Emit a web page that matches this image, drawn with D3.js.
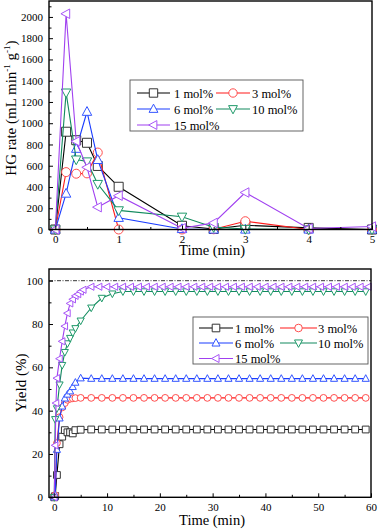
<!DOCTYPE html>
<html>
<head>
<meta charset="utf-8">
<script src="https://cdn.jsdelivr.net/npm/d3@7"></script>
<style>
body { margin: 0; background: #fff; }
svg { display: block; }
text { font-family: "Liberation Serif", "Times New Roman", serif; }
</style>
</head>
<body>
<script>
// ---- data: HG rate panel ----
const hgTime = [0, 0.17, 0.33, 0.5, 0.67, 1, 2, 2.5, 3, 4, 5];
const hg1 = [0, 920, 840, 816, 598, 402, 35, 5, 40, 15, 0];
const hg3 = [0, 540, 525, 528, 724, 0, 0, 2, 78, 0, 0];
const hg6 = [0, 338, 760, 1108, 655, 110, 5, 0, 0, 0, 0];
const hg10 = [0, 1288, 658, 640, 428, 180, 120, 22, 5, 0, 0];
const hg15 = [0, 2030, 830, 585, 210, 318, 12, 62, 348, 10, 28];

// ---- data: Yield panel ----
const yTimeA = [0, 0.17, 0.5, 1, 1.5, 2, 2.5, 3, 3.5, 4, 5,
  7, 9, 11, 13, 15, 17, 19, 21, 23, 25, 27, 29, 31, 33, 35, 37, 39,
  41, 43, 45, 47, 49, 51, 53, 55, 57, 59];
const yTimeB = [0, 0.17, 0.33, 0.5, 1, 1.5, 2, 2.5, 3, 3.5, 4, 4.5, 5, 5.5,
  7, 8.5, 10, 11.5, 13, 14.5, 16, 17.5, 19, 20.5, 22, 23.5, 25, 26.5, 28, 29.5,
  31, 32.5, 34, 35.5, 37, 38.5, 40, 41.5, 43, 44.5, 46, 47.5, 49, 50.5, 52, 53.5,
  55, 56.5, 58, 59.5];
const yield1 = [0, 0.6, 10.3, 24.5, 28, 31, 30, 30, 29.5, 31, 31.2,
  31.3, 31.3, 31.3, 31.3, 31.3, 31.3, 31.3, 31.3, 31.3, 31.3, 31.3, 31.3, 31.3, 31.3,
  31.3, 31.3, 31.3, 31.3, 31.3, 31.3, 31.3, 31.3, 31.3, 31.3, 31.3, 31.3, 31.3];
const yield3 = [0, 1, 25, 37, 41.5, 43.5, 45, 45.5, 45.7, 45.8, 45.9,
  45.9, 45.9, 45.9, 45.9, 45.9, 45.9, 45.9, 45.9, 45.9, 45.9, 45.9, 45.9, 45.9, 45.9,
  45.9, 45.9, 45.9, 45.9, 45.9, 45.9, 45.9, 45.9, 45.9, 45.9, 45.9, 45.9, 45.9];
const yield6 = [0, 1, 22, 36.5, 42, 45.7, 47.5, 49, 51, 53, 55,
  54.8, 54.8, 54.8, 54.8, 54.8, 54.8, 54.8, 54.8, 54.8, 54.8, 54.8, 54.8, 54.8, 54.8,
  54.8, 54.8, 54.8, 54.8, 54.8, 54.8, 54.8, 54.8, 54.8, 54.8, 54.8, 54.8, 54.8];
const yield10 = [0, 36, 41, 52, 61, 67, 71, 73.5, 76, 78, 81.5,
  87.5, 92, 94, 95, 95, 95, 95, 95, 95, 95, 95, 95, 95, 95,
  95, 95, 95, 95, 95, 95, 95, 95, 95, 95, 95, 95, 95];
const yield15 = [0, 24, 43.5, 55, 64, 72, 79, 85, 89.5, 91.4, 93, 93.8, 95, 95.8,
  97.2, 97.2, 97.2, 97.2, 97.2, 97.2, 97.2, 97.2, 97.2, 97.2, 97.2, 97.2, 97.2, 97.2,
  97.2, 97.2, 97.2, 97.2, 97.2, 97.2, 97.2, 97.2, 97.2, 97.2, 97.2, 97.2, 97.2, 97.2,
  97.2, 97.2, 97.2, 97.2, 97.2, 97.2, 97.2, 97.2];

const names = ["1 mol%", "3 mol%", "6 mol%", "10 mol%", "15 mol%"];
const colors = ["#000000", "#ff1a1a", "#1a3cff", "#128a5e", "#a040f0"];
const markerColors = ["#333333", "#ff4d4d", "#3355ff", "#1f9a6a", "#a855f7"];
const shapes = ["square", "circle", "up", "down", "left"];

const svg = d3.select("body").append("svg").attr("width", 378).attr("height", 529);

function markerPath(type, s) {
    switch (type) {
        case "square": return `M${-s},${-s}H${s}V${s}H${-s}Z`;
        case "circle": return `M${s},0A${s},${s} 0 1,1 ${-s},0A${s},${s} 0 1,1 ${s},0Z`;
        case "up": return `M0,${-s * 1.15}L${s * 1.05},${s * 0.8}L${-s * 1.05},${s * 0.8}Z`;
        case "down": return `M0,${s * 1.15}L${s * 1.05},${-s * 0.8}L${-s * 1.05},${-s * 0.8}Z`;
        case "left": return `M${-s * 1.15},0L${s * 0.8},${-s * 1.05}L${s * 0.8},${s * 1.05}Z`;
    }
}

function drawPanel(p) {
    const x = d3.scaleLinear().domain(p.xDomain).range([p.left, p.right]);
    const y = d3.scaleLinear().domain(p.yDomain).range([p.bottom, p.top]);
    const g = svg.append("g");

    if (p.refLine !== undefined) {
        g.append("line")
            .attr("x1", p.left).attr("x2", p.right)
            .attr("y1", y(p.refLine)).attr("y2", y(p.refLine))
            .attr("stroke", "#000").attr("stroke-width", 0.8)
            .attr("stroke-dasharray", "4,1.5,1,1.5");
    }

    // series
    p.series.forEach((s, i) => {
        const pts = s.t.map((t, k) => [x(t), y(s.v[k])]);
        g.append("path")
            .attr("d", d3.line()(pts))
            .attr("fill", "none")
            .attr("stroke", colors[i])
            .attr("stroke-width", 1.1);
        g.selectAll(null).data(pts).enter().append("path")
            .attr("transform", d => `translate(${d[0]},${d[1]})`)
            .attr("d", markerPath(shapes[i], p.mSize))
            .attr("fill", "#fff")
            .attr("stroke", markerColors[i])
            .attr("stroke-width", 1);
    });

    // axes (inward ticks)
    g.append("g").attr("transform", `translate(0,${p.bottom})`)
        .call(d3.axisBottom(x).tickValues(p.xMajor).tickSize(-4).tickPadding(6).tickFormat(d3.format("d")));
    g.append("g").attr("transform", `translate(0,${p.bottom})`)
        .call(d3.axisBottom(x).tickValues(p.xMinor).tickSize(-2.5).tickFormat(""));
    g.append("g").attr("transform", `translate(${p.left},0)`)
        .call(d3.axisLeft(y).tickValues(p.yMajor).tickSize(-4).tickPadding(6).tickFormat(d3.format("d")));
    g.append("g").attr("transform", `translate(${p.left},0)`)
        .call(d3.axisLeft(y).tickValues(p.yMinor).tickSize(-2.5).tickFormat(""));
    g.selectAll(".domain").remove();
    g.selectAll(".tick line").attr("stroke", "#000").attr("stroke-width", 1);
    g.selectAll(".tick text").attr("font-family", "Liberation Serif").attr("font-size", 11).attr("fill", "#000");

    g.append("rect")
        .attr("x", p.left).attr("y", p.top)
        .attr("width", p.right - p.left).attr("height", p.bottom - p.top)
        .attr("fill", "none").attr("stroke", "#000").attr("stroke-width", 1.4);

    // x title
    g.append("text").attr("x", 212).attr("y", p.xTitleY)
        .attr("text-anchor", "middle").attr("font-size", 14.5).text("Time (min)");

    // legend
    const L = p.legend;
    g.append("rect").attr("x", L.x0).attr("y", L.y0)
        .attr("width", L.x1 - L.x0).attr("height", L.y1 - L.y0)
        .attr("fill", "#fff").attr("stroke", "#555").attr("stroke-width", 0.9);
    names.forEach((n, i) => {
        const col = i % 2, row = Math.floor(i / 2);
        const c = L.cols[col];
        const yy = L.rows[row];
        g.append("line").attr("x1", c[0]).attr("x2", c[1]).attr("y1", yy).attr("y2", yy)
            .attr("stroke", colors[i]).attr("stroke-width", 1.1);
        g.append("path").attr("transform", `translate(${(c[0] + c[1]) / 2},${yy})`)
            .attr("d", markerPath(shapes[i], L.mSize))
            .attr("fill", "#fff").attr("stroke", markerColors[i]).attr("stroke-width", 1);
        g.append("text").attr("x", c[2]).attr("y", yy + 4.5)
            .attr("font-size", 12.5).text(n);
    });
    return g;
}

// top panel: HG rate
const hgPanel = drawPanel({
    left: 49, right: 372, top: 1, bottom: 229.5,
    xDomain: [-0.1, 5], yDomain: [0, 2150],
    xMajor: [0, 1, 2, 3, 4, 5], xMinor: [0.5, 1.5, 2.5, 3.5, 4.5],
    yMajor: d3.range(0, 2001, 200), yMinor: d3.range(100, 2101, 200),
    mSize: 4.5,
    series: [hg1, hg3, hg6, hg10, hg15].map(v => ({ t: hgTime, v: v })),
    xTitleY: 255,
    legend: { x0: 130, x1: 303, y0: 80, y1: 131, rows: [93, 109, 125],
        cols: [[137, 170, 174], [216, 250, 252]], mSize: 4.2 }
});
hgPanel.append("text")
    .attr("transform", "translate(16,108) rotate(-90)")
    .attr("text-anchor", "middle").attr("font-size", 15)
    .call(t => {
        t.append("tspan").text("HG rate (mL min");
        t.append("tspan").attr("font-size", 9).attr("dy", -6).text("-1");
        t.append("tspan").attr("dy", 6).text(" g");
        t.append("tspan").attr("font-size", 9).attr("dy", -6).text("-1");
        t.append("tspan").attr("dy", 6).text(")");
    });

// bottom panel: Yield
const yieldPanel = drawPanel({
    left: 49, right: 371, top: 269, bottom: 497.3,
    xDomain: [-1, 60], yDomain: [0, 105.4],
    xMajor: [0, 10, 20, 30, 40, 50, 60], xMinor: [5, 15, 25, 35, 45, 55],
    yMajor: [0, 20, 40, 60, 80, 100], yMinor: [10, 30, 50, 70, 90],
    mSize: 3.4,
    refLine: 100,
    series: [
        { t: yTimeA, v: yield1 }, { t: yTimeA, v: yield3 }, { t: yTimeA, v: yield6 },
        { t: yTimeA, v: yield10 }, { t: yTimeB, v: yield15 }
    ],
    xTitleY: 525,
    legend: { x0: 193, x1: 368, y0: 317, y1: 364, rows: [328, 343, 358.5],
        cols: [[199, 233, 235], [280, 317, 318]], mSize: 3.8 }
});
yieldPanel.append("text")
    .attr("transform", "translate(26,383) rotate(-90)")
    .attr("text-anchor", "middle").attr("font-size", 15)
    .text("Yield (%)");
</script>
</body>
</html>
